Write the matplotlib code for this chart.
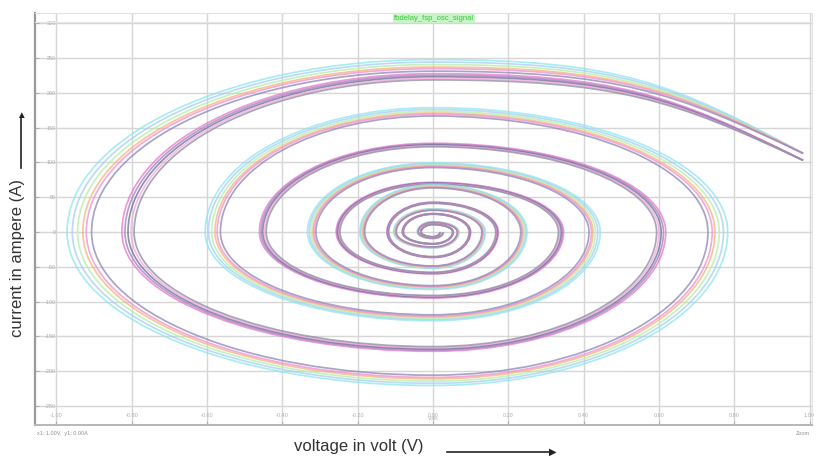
import matplotlib.pyplot as plt
from matplotlib.path import Path
from matplotlib.patches import PathPatch
from matplotlib.lines import Line2D

plt.rcParams['font.family'] = ['Liberation Sans', 'DejaVu Sans']

# spiral traces: end point of the run, then the
# quarter-turn extremes going inward: top, left, bottom, right, top, ...
# (x extremes in V, y extremes in mA, around the centre at 0 V / 0 mA)
start_a = (0.983, 113)
ext_a = [237, 0.930, 211, 0.749, 171, 0.579, 122, 0.425, 95, 0.319, 79, 0.239,
         65, 0.186, 50, 0.133, 32, 0.100, 22, 0.066, 14, 0.040, 9, 0.027]
start_b = (0.983, 103)
ext_b = [223, 0.810, 168, 0.606, 125, 0.452, 93, 0.340, 70, 0.252, 59, 0.170,
         42, 0.120, 36, 0.098, 26, 0.080, 17, 0.053, 11, 0.032, 7, 0.019]

# monte carlo runs: colour and spread of each run inside its bundle
colors_a = ['#8ce6ee', '#a6cdf4', '#b2eeaa', '#f3b47a', '#f08ed2', '#8c86b4']
gain_a = [1.045, 1.03, 1.015, 1.0, 0.99, 0.975]
colors_b = ['#e678c8', '#a27cc4', '#6c6c90', '#f4a6da', '#8a8aa2']
gain_b = [1.02, 1.01, 1.0, 0.99, 0.98]

xticks = [-1.0, -0.8, -0.6, -0.4, -0.2, 0.0, 0.2, 0.4, 0.6, 0.8, 1.0]
yticks = [300, 250, 200, 150, 100, 50, 0, -50, -100, -150, -200, -250]


def spiral(start, ext, gain):
    k = 0.5523
    x0, y0 = start
    b = ext[0] * gain
    verts = [(x0, y0), (x0 * 0.65, y0 + (b - y0) * 0.75), (x0 * 0.5, b), (0, b)]
    codes = [Path.MOVETO] + [Path.CURVE4] * 3
    dirs = [(0, 1), (-1, 0), (0, -1), (1, 0)]
    for i in range(1, len(ext)):
        d0, d1 = dirs[(i - 1) % 4], dirs[i % 4]
        r0, r1 = ext[i - 1] * gain, ext[i] * gain
        p0 = (d0[0] * r0, d0[1] * r0)
        p3 = (d1[0] * r1, d1[1] * r1)
        p1 = (p0[0] + d1[0] * k * r1, p0[1] + d1[1] * k * r1)
        p2 = (p3[0] + d0[0] * k * r0, p3[1] + d0[1] * k * r0)
        verts += [p1, p2, p3]
        codes += [Path.CURVE4] * 3
    return Path(verts, codes)


fig = plt.figure(figsize=(8.17, 4.61), dpi=100)
ax = fig.add_axes([35 / 817, 1 - 425 / 461, 777 / 817, 412 / 461])
ax.set_xlim(-1.057, 1.0066)
ax.set_ylim(-277.3, 314.7)

ax.set_xticks(xticks)
ax.set_xticklabels(['%.2f' % v for v in xticks])
ax.set_yticks(yticks)
ax.set_yticklabels([str(v) for v in yticks])
ax.tick_params(axis='x', direction='in', pad=-9, labelsize=4, colors='#b0b0b0', length=3)
ax.tick_params(axis='y', direction='in', pad=-15, labelsize=4, colors='#b0b0b0', length=3)
ax.grid(True, color='#d6d6d6', linewidth=1.0)
ax.set_axisbelow(True)

for s in ['top', 'right']:
    ax.spines[s].set_color('#e2e2e2')
ax.spines['left'].set_color('#9a9a9a')
ax.spines['left'].set_linewidth(1.6)
ax.spines['bottom'].set_color('#b8b8b8')
ax.spines['bottom'].set_linewidth(1.4)

for c, g in zip(colors_b, gain_b):
    ax.add_patch(PathPatch(spiral(start_b, ext_b, g), fill=False, edgecolor=c,
                           linewidth=1.25, alpha=0.75))
for c, g in zip(colors_a, gain_a):
    ax.add_patch(PathPatch(spiral(start_a, ext_a, g), fill=False, edgecolor=c,
                           linewidth=1.25, alpha=0.75))

ax.text(0, -268, 'Volts', fontsize=3.5, color='#b0b0b0', ha='center', va='center')

# trace name in the header strip
fig.text(434 / 817, 1 - 18 / 461, 'fbdelay_fsp_osc_signal', fontsize=5.5, color='#38c838',
         ha='center', va='center', bbox=dict(facecolor='#c8f5c8', edgecolor='none', pad=1))
fig.add_artist(Line2D([35 / 817, 812 / 817], [1 - 22 / 461, 1 - 22 / 461],
                      color='#e6e6e6', linewidth=0.8))

# status line under the plot
fig.text(37 / 817, 1 - 433 / 461, 'x1: 1.00V,  y1: 0.00A', fontsize=4, color='#909090',
         va='center')
fig.text(810 / 817, 1 - 433 / 461, 'Zoom', fontsize=4, color='#909090', va='center',
         ha='right')

fig.text(18 / 817, 1 - 258 / 461, 'current in ampere (A)', rotation=90, fontsize=12,
         color='#333333', ha='center', va='center')
fig.add_artist(Line2D([21 / 817, 21 / 817], [1 - 168 / 461, 1 - 118 / 461],
                      color='#222222', linewidth=1.2))
fig.text(21 / 817, 1 - 115 / 461, '\u25b2', fontsize=7, color='#222222', ha='center',
         va='center')

fig.text(359 / 817, 1 - 446 / 461, 'voltage in volt (V)', fontsize=12, color='#333333',
         ha='center', va='center')
fig.add_artist(Line2D([447 / 817, 550 / 817], [1 - 452 / 461, 1 - 452 / 461],
                      color='#222222', linewidth=1.2))
fig.text(553 / 817, 1 - 452 / 461, '\u25b6', fontsize=7, color='#222222', ha='center',
         va='center')

fig.savefig('out.png', dpi=100)
